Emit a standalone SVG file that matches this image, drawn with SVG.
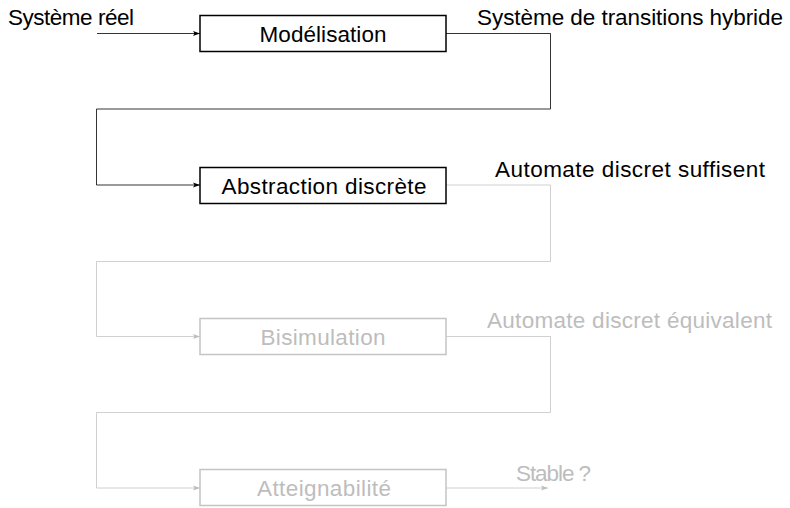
<svg xmlns="http://www.w3.org/2000/svg" width="790" height="508" viewBox="0 0 790 508">
<defs>
<marker id="ak" markerWidth="8" markerHeight="6" refX="7" refY="3" orient="auto" markerUnits="userSpaceOnUse"><path d="M0,0.6 L7,3 L0,5.4 L1.5,3 Z" fill="#000"/></marker>
<marker id="ag" markerWidth="8" markerHeight="6" refX="7" refY="3" orient="auto" markerUnits="userSpaceOnUse"><path d="M0,0.6 L7,3 L0,5.4 L1.5,3 Z" fill="#bdbdbd"/></marker>
</defs>
<style>
text{font-family:"Liberation Sans",Arial,sans-serif;font-size:22.5px}
.k{fill:#000}
.g{fill:#bdbdbd}
.bk{fill:#fff;stroke:#000;stroke-width:1.5}
.bg{fill:#fff;stroke:#c4c4c4;stroke-width:1.5}
.ck{fill:none;stroke:#000;stroke-width:0.8}
.cg{fill:none;stroke:#c4c4c4;stroke-width:0.8}
.m{text-anchor:middle}
</style>
<g id="connectors">
<line class="ck" x1="97" y1="33.5" x2="200" y2="33.5" marker-end="url(#ak)"/>
<path class="ck" d="M446,33.5 H550.5 V109 H96.5 V185 H200" marker-end="url(#ak)"/>
<path class="cg" d="M446,185 H550.5 V261.5 H96.5 V336.5 H200" marker-end="url(#ag)"/>
<path class="cg" d="M446,336.5 H550.5 V412.5 H96.5 V488 H200" marker-end="url(#ag)"/>
<line class="cg" x1="446" y1="488" x2="548" y2="488" marker-end="url(#ag)"/>
</g>
<g id="labels">
<text class="k" x="8" y="25" textLength="126" lengthAdjust="spacing">Système réel</text>
<text class="k" x="477" y="25" textLength="306" lengthAdjust="spacing">Système de transitions hybride</text>
<text class="k" x="495" y="177" textLength="270" lengthAdjust="spacing">Automate discret suffisent</text>
<text class="g" x="487" y="328" textLength="285" lengthAdjust="spacing">Automate discret équivalent</text>
<text class="g" x="516" y="481" textLength="75" lengthAdjust="spacing">Stable ?</text>
</g>
<g id="n1"><rect class="bk" x="200" y="15.5" width="246" height="36"/><text class="k m" x="323" y="42" textLength="127" lengthAdjust="spacing">Modélisation</text></g>
<g id="n2"><rect class="bk" x="200" y="167.5" width="246" height="36"/><text class="k m" x="324" y="194" textLength="205" lengthAdjust="spacing">Abstraction discrète</text></g>
<g id="n3"><rect class="bg" x="200" y="318.5" width="246" height="36"/><text class="g m" x="323" y="345" textLength="125" lengthAdjust="spacing">Bisimulation</text></g>
<g id="n4"><rect class="bg" x="200" y="469.5" width="246" height="36"/><text class="g m" x="324" y="496" textLength="134" lengthAdjust="spacing">Atteignabilité</text></g>
</svg>
